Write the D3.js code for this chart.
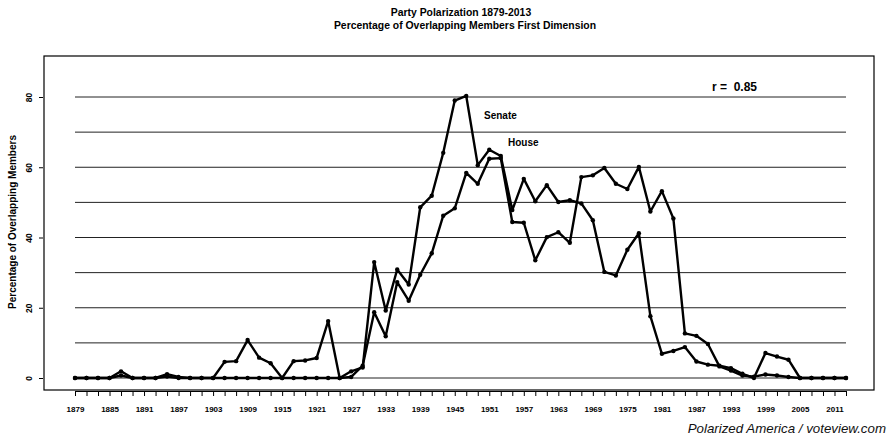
<!DOCTYPE html>
<html>
<head>
<meta charset="utf-8">
<script src="https://cdn.jsdelivr.net/npm/d3@7"></script>
<style>
  body { margin: 0; background: #fff; }
  svg { display: block; font-family: "Liberation Sans", Arial, sans-serif; }
</style>
</head>
<body>
<svg id="chart" width="892" height="438"></svg>
<script>
// congresses, first year of each
const years = [
  1879, 1881, 1883, 1885, 1887, 1889, 1891, 1893, 1895, 1897,
  1899, 1901, 1903, 1905, 1907, 1909, 1911, 1913, 1915, 1917,
  1919, 1921, 1923, 1925, 1927, 1929, 1931, 1933, 1935, 1937,
  1939, 1941, 1943, 1945, 1947, 1949, 1951, 1953, 1955, 1957,
  1959, 1961, 1963, 1965, 1967, 1969, 1971, 1973, 1975, 1977,
  1979, 1981, 1983, 1985, 1987, 1989, 1991, 1993, 1995, 1997,
  1999, 2001, 2003, 2005, 2007, 2009, 2011, 2013,
];

const senate = [
  0, 0, 0, 0, 1.9, 0, 0, 0, 1.1, 0.3,
  0, 0, 0, 4.6, 4.8, 10.8, 5.8, 4.2, 0, 4.8,
  5.0, 5.7, 16.2, 0, 1.9, 3.0, 33.0, 19.2, 30.9, 26.6,
  48.6, 51.9, 64.1, 79.0, 80.3, 60.6, 65.0, 63.2, 47.8, 56.7,
  50.3, 54.9, 50.1, 50.6, 49.7, 44.9, 30.2, 29.2, 36.5, 41.2,
  17.6, 6.9, 7.7, 8.8, 4.7, 3.8, 3.5, 2.8, 1.2, 0,
  7.1, 6.1, 5.2, 0, 0, 0, 0, 0,
];

const house = [
  0, 0, 0, 0, 0.7, 0, 0, 0, 0.4, 0,
  0, 0, 0, 0, 0, 0, 0, 0, 0, 0,
  0, 0, 0, 0, 0.3, 3.5, 18.7, 11.9, 27.3, 22.0,
  29.4, 35.5, 46.2, 48.3, 58.4, 55.3, 62.4, 62.6, 44.4, 44.2,
  33.5, 40.1, 41.5, 38.5, 57.2, 57.7, 59.8, 55.3, 53.8, 60.1,
  47.4, 53.2, 45.4, 12.7, 12.0, 9.7, 3.3, 2.1, 0.7, 0.4,
  1.0, 0.7, 0.3, 0, 0, 0, 0, 0,
];

const xLabels = [
  1879, 1885, 1891, 1897, 1903, 1909, 1915, 1921, 1927, 1933, 1939, 1945,
  1951, 1957, 1963, 1969, 1975, 1981, 1987, 1993, 1999, 2005, 2011,
];
const yTicks = [0, 20, 40, 60, 80];
const gridValues = [0, 10, 20, 30, 40, 50, 60, 70, 80];

const box = { left: 44, top: 56, right: 874, bottom: 390 };

const svg = d3.select('#chart');

const x = d3.scaleLinear().domain([1879, 2013]).range([75, 846]);
const y = d3.scaleLinear().domain([0, 80]).range([378, 97]);

// titles
svg.append('text')
  .attr('x', 461).attr('y', 16)
  .attr('text-anchor', 'middle')
  .style('font-size', '10.4px').style('font-weight', 'bold')
  .text('Party Polarization 1879-2013');
svg.append('text')
  .attr('x', 465).attr('y', 29)
  .attr('text-anchor', 'middle')
  .style('font-size', '10.4px').style('font-weight', 'bold')
  .text('Percentage of Overlapping Members First Dimension');

// grid lines
svg.append('g')
  .selectAll('line')
  .data(gridValues)
  .enter()
  .append('line')
  .attr('x1', x(1879)).attr('x2', x(2013))
  .attr('y1', (d) => y(d)).attr('y2', (d) => y(d))
  .style('stroke', '#222')
  .style('stroke-width', 1);

// plot box
svg.append('rect')
  .attr('x', box.left).attr('y', box.top)
  .attr('width', box.right - box.left)
  .attr('height', box.bottom - box.top)
  .style('fill', 'none')
  .style('stroke', '#000')
  .style('stroke-width', 1.2);

// y axis
const yAxis = svg.append('g')
  .attr('transform', `translate(${box.left - 1}, 0)`)
  .call(d3.axisLeft(y).tickValues(yTicks).tickSize(4).tickSizeOuter(0));
yAxis.select('.domain').remove();
yAxis.selectAll('line').style('stroke', '#000');
yAxis.selectAll('text')
  .attr('x', null)
  .attr('transform', 'translate(-14, 0) rotate(-90)')
  .attr('text-anchor', 'middle')
  .attr('dy', '0.35em')
  .style('font-size', '8.5px')
  .style('font-weight', 'bold')
  .style('font-family', '"Liberation Sans", Arial, sans-serif');

svg.append('text')
  .attr('transform', 'translate(16, 222) rotate(-90)')
  .attr('text-anchor', 'middle')
  .style('font-size', '10px')
  .style('font-weight', 'bold')
  .text('Percentage of Overlapping Members');

// x axis
const xAxis = svg.append('g')
  .attr('transform', `translate(0, ${box.bottom + 1})`)
  .call(
    d3.axisBottom(x)
      .tickValues(years)
      .tickSize(5)
      .tickSizeOuter(0)
      .tickFormat((d) => (xLabels.includes(d) ? d : ''))
  );
xAxis.selectAll('line, path').style('stroke', '#000');
xAxis.selectAll('text')
  .attr('y', 15)
  .style('font-size', '8px')
  .style('font-weight', 'bold')
  .style('font-family', '"Liberation Sans", Arial, sans-serif');

// series
const line = d3.line()
  .x((d, i) => x(years[i]))
  .y((d) => y(d));

[house, senate].forEach((series) => {
  svg.append('path')
    .datum(series)
    .attr('d', line)
    .style('fill', 'none')
    .style('stroke', '#000')
    .style('stroke-width', 2.4)
    .style('stroke-linejoin', 'round');

  svg.append('g')
    .selectAll('circle')
    .data(series)
    .enter()
    .append('circle')
    .attr('cx', (d, i) => x(years[i]))
    .attr('cy', (d) => y(d))
    .attr('r', 2.2)
    .style('fill', '#000');
});

// annotations
svg.append('text')
  .attr('x', 484).attr('y', 119)
  .style('font-size', '10px').style('font-weight', 'bold')
  .text('Senate');
svg.append('text')
  .attr('x', 508).attr('y', 146)
  .style('font-size', '10px').style('font-weight', 'bold')
  .text('House');
svg.append('text')
  .attr('x', 712).attr('y', 91)
  .style('font-size', '12px').style('font-weight', 'bold')
  .style('white-space', 'pre')
  .text('r =  0.85');

svg.append('text')
  .attr('x', 886).attr('y', 433)
  .attr('text-anchor', 'end')
  .style('font-size', '13.3px')
  .style('font-style', 'italic')
  .style('fill', '#111')
  .text('Polarized America / voteview.com');
</script>
</body>
</html>
